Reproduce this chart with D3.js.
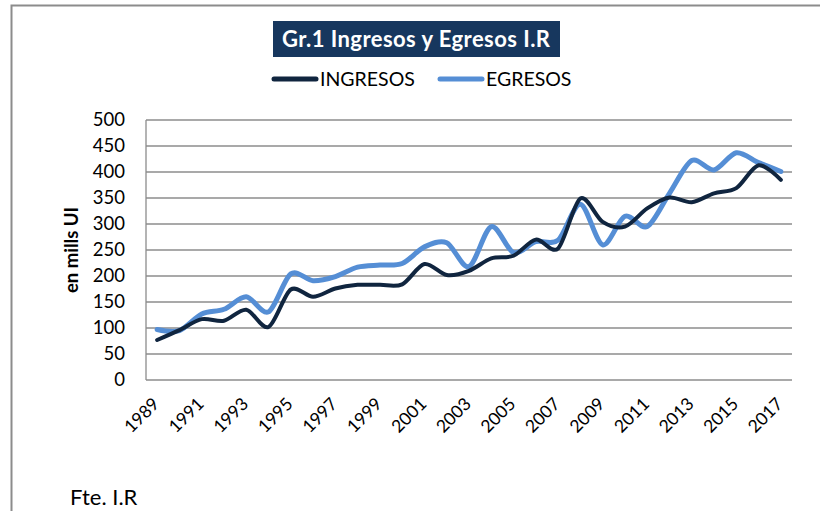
<!DOCTYPE html>
<html>
<head>
<meta charset="utf-8">
<script src="https://cdn.jsdelivr.net/npm/d3@7"></script>
<style>
  body { margin: 0; background: #fff; }
  svg text { font-family: Lato, "Open Sans", sans-serif; fill: #000; }
</style>
</head>
<body>
<svg width="820" height="511"></svg>
<script>
// data
years = d3.range(1989, 2018);
ingresos = [77, 96, 117, 114, 135, 102, 174, 160, 176, 183, 183, 184, 223, 202, 210, 234, 239, 270, 253, 349,
            304, 295, 330, 351, 342, 359, 369, 413, 385];
egresos = [97, 95, 127, 136, 160, 131, 204, 191, 199, 217, 221, 224, 256, 264, 218, 295, 245, 266, 269, 338,
           260, 315, 295, 359, 422, 404, 437, 418, 401];
yTicks = [0, 50, 100, 150, 200, 250, 300, 350, 400, 450, 500];
xLabels = years.filter((y, i) => i % 2 == 0);

svg = d3.select('svg');

// outer frame (only top and left visible)
svg.append('path')
    .attr('d', 'M11.5,511 L11.5,5.5 L820,5.5')
    .attr('fill', 'none')
    .attr('stroke', '#8c8c8c')
    .attr('stroke-width', 2);

plotLeft = 146;
plotRight = 792;
plotTop = 120;
plotBottom = 380;

xScale = d3.scaleBand()
    .domain(years)
    .range([plotLeft, plotRight]);

yScale = d3.scaleLinear()
    .domain([0, 500])
    .range([plotBottom, plotTop]);

// grid
svg.append('g')
    .selectAll('line')
    .data(yTicks)
    .enter()
    .append('line')
    .attr('x1', plotLeft)
    .attr('x2', plotRight)
    .attr('y1', (d) => yScale(d))
    .attr('y2', (d) => yScale(d))
    .attr('stroke', '#8c8c8c')
    .attr('stroke-width', 1.3);

svg.append('line')
    .attr('x1', plotLeft).attr('x2', plotLeft)
    .attr('y1', plotTop).attr('y2', plotBottom)
    .attr('stroke', '#8c8c8c')
    .attr('stroke-width', 1.3);

// y labels
yAxis = svg.append('g')
    .attr('transform', `translate(${plotLeft}, 0)`)
    .call(d3.axisLeft(yScale).tickValues(yTicks).tickSize(0).tickPadding(21));
yAxis.select('.domain').remove();
yAxis.selectAll('text')
    .style('font-size', '18.5px')
    .attr('fill', '#000');

// x labels
xAxis = svg.append('g')
    .attr('transform', `translate(0, ${plotBottom})`)
    .call(d3.axisBottom(xScale).tickValues(xLabels).tickSize(0).tickFormat((d) => d));
xAxis.select('.domain').remove();
xAxis.selectAll('text')
    .style('font-size', '17.5px')
    .attr('fill', '#000')
    .attr('text-anchor', 'end')
    .attr('dy', 0)
    .attr('transform', 'translate(1, 23) rotate(-45)');

// y title
svg.append('text')
    .attr('transform', 'translate(78, 250) rotate(-90)')
    .attr('text-anchor', 'middle')
    .style('font-size', '18.5px')
    .style('font-weight', 'bold')
    .text('en mills UI');

cx = (d, i) => xScale(years[i]) + xScale.bandwidth() / 2;

line = d3.line()
    .x(cx)
    .y((d) => yScale(d))
    .curve(d3.curveCardinal.tension(0.1));

svg.append('path')
    .datum(egresos)
    .attr('fill', 'none')
    .attr('stroke', '#558ed5')
    .attr('stroke-width', 5)
    .attr('stroke-linecap', 'round')
    .attr('d', line);

svg.append('path')
    .datum(ingresos)
    .attr('fill', 'none')
    .attr('stroke', '#10253f')
    .attr('stroke-width', 4)
    .attr('stroke-linecap', 'round')
    .attr('d', line);

// title
svg.append('rect')
    .attr('x', 273)
    .attr('y', 21)
    .attr('width', 287)
    .attr('height', 36)
    .attr('fill', '#17375e');

svg.append('text')
    .attr('x', 416)
    .attr('y', 47)
    .attr('text-anchor', 'middle')
    .attr('textLength', 268)
    .style('font-size', '22px')
    .style('font-weight', 'bold')
    .style('fill', '#fff')
    .text('Gr.1 Ingresos y Egresos I.R');

// legend
legend = [
    {name: 'INGRESOS', color: '#10253f', x: 272},
    {name: 'EGRESOS', color: '#558ed5', x: 438}
];
lg = svg.append('g').selectAll('g')
    .data(legend)
    .enter()
    .append('g');
lg.append('line')
    .attr('x1', (d) => d.x + 2)
    .attr('x2', (d) => d.x + 44)
    .attr('y1', 79)
    .attr('y2', 79)
    .attr('stroke', (d) => d.color)
    .attr('stroke-width', 5)
    .attr('stroke-linecap', 'round');
lg.append('text')
    .attr('x', (d) => d.x + 48)
    .attr('y', 86)
    .style('font-size', '19.5px')
    .text((d) => d.name);

// source
svg.append('text')
    .attr('x', 70)
    .attr('y', 505)
    .style('font-size', '22px')
    .text('Fte. I.R');
</script>
</body>
</html>
